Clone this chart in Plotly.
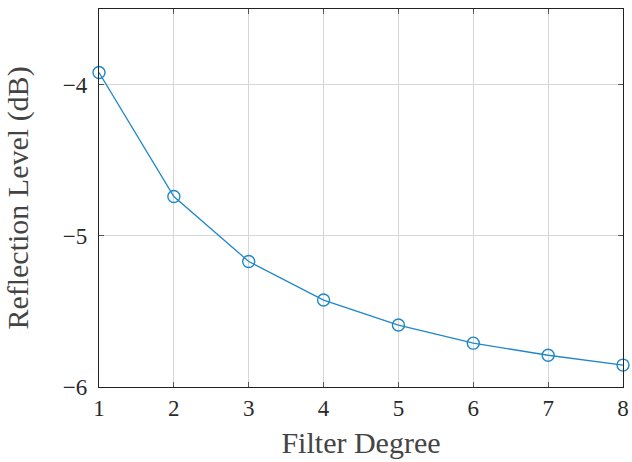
import plotly.graph_objects as go

degree = [1, 2, 3, 4, 5, 6, 7, 8]
reflection_db = [-3.92, -4.74, -5.17, -5.425, -5.59, -5.71, -5.79, -5.855]
x_ticks = [1, 2, 3, 4, 5, 6, 7, 8]
y_ticks = [-6, -5, -4]
y_tick_text = ["\u22126", "\u22125", "\u22124"]

FONT = "Liberation Serif"
color = "#1f87c9"

fig = go.Figure()
fig.add_trace(go.Scatter(
    x=degree, y=reflection_db, mode="lines+markers",
    line=dict(color=color, width=1.3),
    marker=dict(symbol="circle-open", size=12, color=color, line=dict(width=1.4, color=color)),
    cliponaxis=False, showlegend=False,
))

axis_common = dict(
    showgrid=True, gridcolor="#d6d6d6", gridwidth=1,
    showline=True, linecolor="#222222", linewidth=1.3, mirror="ticks",
    ticks="inside", ticklen=5, tickcolor="#555555", tickwidth=1,
    zeroline=False,
    tickfont=dict(family=FONT, size=23, color="#2a2a2a"),
    ticklabeloverflow="allow",
)

fig.update_layout(
    width=632, height=462,
    margin=dict(l=99, r=3, t=9, b=75),
    plot_bgcolor="white", paper_bgcolor="white",
    font=dict(family=FONT, color="#2a2a2a"),
    xaxis=dict(range=[1, 8], tickvals=x_ticks, ticktext=[str(t) for t in x_ticks],
               title=dict(text="Filter Degree", font=dict(family=FONT, size=30, color="#444444"), standoff=12),
               ticklabelstandoff=0,
               **axis_common),
    yaxis=dict(range=[-6, -3.5], tickvals=y_ticks, ticktext=y_tick_text,
               title=dict(text="Reflection Level (dB)", font=dict(family=FONT, size=30, color="#444444"), standoff=25),
               ticklabelstandoff=6,
               **axis_common),
)

fig.write_html("out.html")
